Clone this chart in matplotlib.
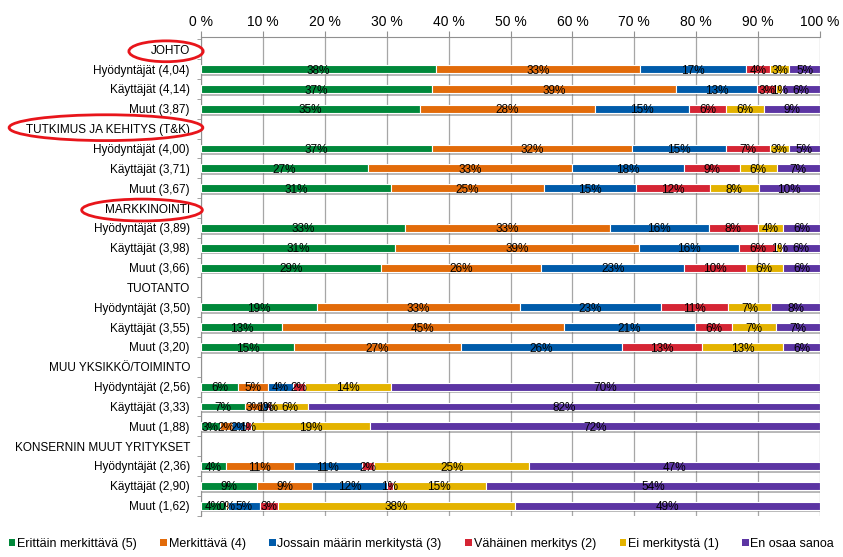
import numpy as np
import matplotlib.pyplot as plt
from matplotlib.patches import Patch, Ellipse
from matplotlib import patheffects as pe
from matplotlib.transforms import blended_transform_factory

plt.rcParams['font.family'] = ['Liberation Sans', 'DejaVu Sans']

# ryhmät ja rivit
groups = ["JOHTO", "TUTKIMUS JA KEHITYS (T&K)", "MARKKINOINTI", "TUOTANTO",
          "MUU YKSIKKÖ/TOIMINTO", "KONSERNIN MUUT YRITYKSET"]
row_names = [["Hyödyntäjät (4,04)", "Käyttäjät (4,14)", "Muut (3,87)"],
             ["Hyödyntäjät (4,00)", "Käyttäjät (3,71)", "Muut (3,67)"],
             ["Hyödyntäjät (3,89)", "Käyttäjät (3,98)", "Muut (3,66)"],
             ["Hyödyntäjät (3,50)", "Käyttäjät (3,55)", "Muut (3,20)"],
             ["Hyödyntäjät (2,56)", "Käyttäjät (3,33)", "Muut (1,88)"],
             ["Hyödyntäjät (2,36)", "Käyttäjät (2,90)", "Muut (1,62)"]]

# prosentit (%), 18 riviä
erittain   = [38, 37, 35, 37, 27, 31, 33, 31, 29, 19, 13, 15, 6, 7, 3, 4, 9, 4]
merkittava = [33, 39, 28, 32, 33, 25, 33, 39, 26, 33, 45, 27, 5, 3, 2, 11, 9, 0.4]
jossain    = [17, 13, 15, 15, 18, 15, 16, 16, 23, 23, 21, 26, 4, 0.8, 2, 11, 12, 5]
vahainen   = [4, 3, 6, 7, 9, 12, 8, 6, 10, 11, 6, 13, 2, 0.4, 1, 2, 1, 3]
ei         = [3, 1, 6, 3, 6, 8, 4, 1, 6, 7, 7, 13, 14, 6, 19, 25, 15, 38]
en_osaa    = [5, 6, 9, 5, 7, 10, 6, 6, 6, 8, 7, 6, 70, 82, 72, 47, 54, 49]

series = [erittain, merkittava, jossain, vahainen, ei, en_osaa]
names = ["Erittäin merkittävä (5)", "Merkittävä (4)", "Jossain määrin merkitystä (3)",
         "Vähäinen merkitys (2)", "Ei merkitystä (1)", "En osaa sanoa"]
colors = ['#00883A', '#E26B0A', '#005BAA', '#D52534', '#E4B300', '#5C35A3']

fig = plt.figure(figsize=(8.43, 5.57), dpi=100)
ax = fig.add_axes([201 / 843, 1 - 516 / 557, 619 / 843, 479 / 557])

ypos = [4 * g + k + 1 for g in range(len(groups)) for k in range(3)]
totals = np.sum(series, axis=0)

left = np.zeros(len(ypos))
for vals, color in zip(series, colors):
    w = np.array(vals) / totals * 100  # 100 % pinottu
    bars = ax.barh(ypos, w, left=left, height=0.4, color=color,
                   edgecolor='white', linewidth=0.8, zorder=3)
    for b in bars:
        b.set_path_effects([pe.SimplePatchShadow(offset=(1, -2), shadow_rgbFace='0.45', alpha=0.5),
                            pe.Normal()])
    for y, l, ww, v in zip(ypos, left, w, vals):
        ax.text(l + ww / 2, y + 0.08, f"{v:.0f}%", ha='center', va='center',
                fontsize=8.5, color='black', zorder=5)
    left += w

# y-akselin nimet
labels = []
for g, rn in zip(groups, row_names):
    labels.append(g)
    labels.extend(rn)
ax.set_yticks(range(len(labels)))
ax.set_yticklabels(labels, fontsize=8.5)
ax.set_yticks(np.arange(-0.5, len(labels), 1), minor=True)
ax.tick_params(axis='y', which='major', length=0, pad=8)
ax.tick_params(axis='y', which='minor', length=3, color='#909090')
ax.set_ylim(23.52, -0.62)

ax.set_xlim(0, 100)
ax.xaxis.tick_top()
ticks = np.arange(0, 101, 10)
ax.set_xticks(ticks)
ax.set_xticklabels([f"{t} %" for t in ticks], fontsize=10)
ax.tick_params(axis='x', length=4, color='#909090', pad=2)
ax.grid(axis='x', color='#A6A6A6', linewidth=0.9, zorder=0)
ax.set_axisbelow(True)
for s in ['bottom', 'right']:
    ax.spines[s].set_visible(False)
for s in ['top', 'left']:
    ax.spines[s].set_color('#909090')

# punaiset ympyröinnit
trans = blended_transform_factory(ax.transAxes, ax.transData)
for cx, cy, ew, eh in [(-0.0565, 0.1, 0.12, 1.05),
                       (-0.1535, 3.95, 0.313, 1.3),
                       (-0.0953, 8.1, 0.195, 1.1)]:
    ax.add_patch(Ellipse((cx, cy), ew, eh, transform=trans, fill=False,
                         edgecolor='#E8151B', linewidth=2, clip_on=False, zorder=6))

handles = [Patch(facecolor=c, label=n) for c, n in zip(colors, names)]
fig.legend(handles=handles, loc='lower center', bbox_to_anchor=(0.5, -0.008), ncol=6,
           frameon=False, handlelength=0.5, handleheight=0.5, handletextpad=0.15,
           columnspacing=1.9, prop={'size': 9})

fig.savefig('out.png', dpi=100)
